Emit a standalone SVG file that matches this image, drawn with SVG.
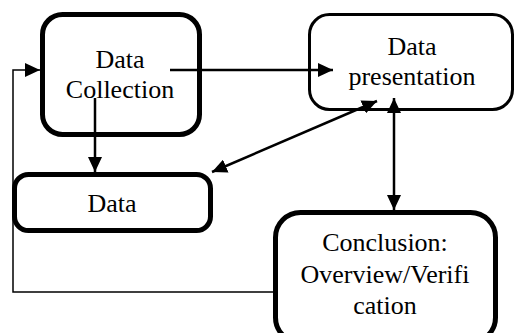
<svg xmlns="http://www.w3.org/2000/svg" width="515" height="333" viewBox="0 0 515 333">
<style>
.box{fill:#fff;stroke:#000}
.thick{stroke-width:5}
.thin{stroke-width:3}
text{font-family:"Liberation Serif","Times New Roman",serif;font-size:26px;fill:#000;text-anchor:middle}
.ln{fill:none;stroke:#000;stroke-width:2.5}
</style>
<defs>
<marker id="ah" markerUnits="userSpaceOnUse" markerWidth="16" markerHeight="14" refX="15" refY="7" orient="auto-start-reverse">
<path d="M0,0 L15,7 L0,14 z" fill="#000"/>
</marker>
</defs>
<rect width="515" height="333" fill="#fff"/>
<g id="data-collection">
<rect class="box thick" x="42.5" y="14.5" width="157" height="120" rx="20"/>
<text x="120" y="68">Data</text>
<text x="120" y="98">Collection</text>
</g>
<g id="data-presentation">
<rect class="box thin" x="309.5" y="14.5" width="203" height="95" rx="20"/>
<text x="412" y="55">Data</text>
<text x="412" y="85">presentation</text>
</g>
<g id="data">
<rect class="box thick" x="14.5" y="174.5" width="196" height="56" rx="14"/>
<text x="112" y="212">Data</text>
</g>
<g id="conclusion">
<rect class="box thick" x="275.5" y="212.5" width="220" height="130" rx="25"/>
<text x="385" y="251">Conclusion:</text>
<text x="385" y="283">Overview/Verifi</text>
<text x="385" y="314">cation</text>
</g>
<g id="connectors">
<polyline class="ln" style="stroke-width:1.5" points="274,292 13,292 13,70 40,70" marker-end="url(#ah)"/>
<line class="ln" x1="170" y1="70" x2="333" y2="70" marker-end="url(#ah)"/>
<line class="ln" x1="95" y1="98" x2="95" y2="172" marker-end="url(#ah)"/>
<line class="ln" x1="212" y1="172" x2="377" y2="101" marker-start="url(#ah)" marker-end="url(#ah)"/>
<line class="ln" x1="394" y1="98" x2="394" y2="210" marker-start="url(#ah)" marker-end="url(#ah)"/>
</g>
</svg>
